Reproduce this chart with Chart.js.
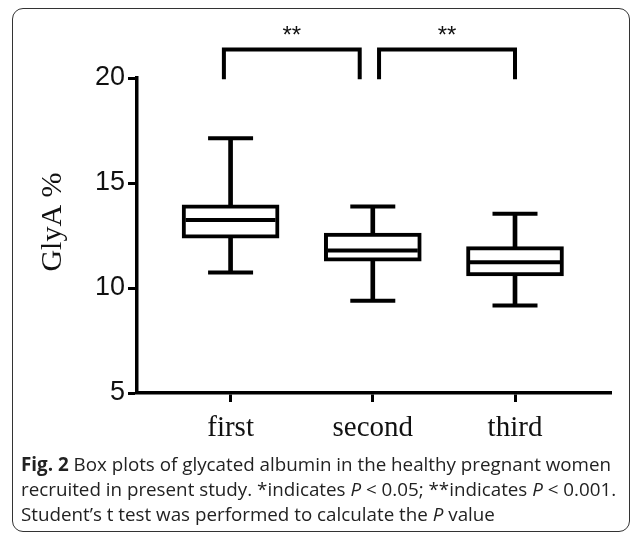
<!DOCTYPE html>
<html>
<head>
<meta charset="utf-8">
<script src="https://cdn.jsdelivr.net/npm/chart.js@4.4.1/dist/chart.umd.min.js"></script>
<style>
  html, body { margin: 0; padding: 0; background: #fff; }
  #wrap { position: relative; width: 633px; height: 536px; overflow: hidden; }
  #c { position: absolute; left: 0; top: 0; }
  #frame { position: absolute; left: 12px; top: 8px; width: 618px; height: 524px;
           border: 1.5px solid #333; border-radius: 11px; box-sizing: border-box; pointer-events: none; }
  #cap { position: absolute; left: 21px; top: 452px; width: 605px;
         font-family: "Open Sans", sans-serif; font-size: 18.8px; line-height: 25px; color: #222; }
  #cap b { font-weight: 700; }
</style>
</head>
<body>
<div id="wrap">
  <canvas id="c" width="633" height="536"></canvas>
  <div id="frame"></div>
  <div id="cap"><b>Fig. 2</b> Box plots of glycated albumin in the healthy pregnant women recruited in present study. *indicates <i>P</i> &lt; 0.05; **indicates <i>P</i> &lt; 0.001. Student’s t test was performed to calculate the <i>P</i> value</div>
</div>
<script>
// ---- data ----
const categories = ["first", "second", "third"];
const whiskerMin = [10.74, 9.39, 9.17];
const q1 = [12.37, 11.28, 10.57];
const median = [13.24, 11.78, 11.23];
const q3 = [13.96, 12.61, 11.97];
const whiskerMax = [17.13, 13.88, 13.53];
const yTicks = [5, 10, 15, 20];
const yTitle = "GlyA %";
// significance brackets (x in category units, y in GlyA %)
const bracketFrom = [0.953, 2.044];
const bracketTo = [1.908, 3.0];
const bracketLabel = ["**", "**"];
const bracketTop = 21.36, bracketBottom = 19.94, bracketTextY = 21.66;

const idx = categories.map((c, i) => i + 1);

const annotations = {
  id: 'annotations',
  afterDatasetsDraw(chart) {
    const ctx = chart.ctx, xs = chart.scales.x, ys = chart.scales.y;
    ctx.save();
    ctx.strokeStyle = '#000';
    ctx.lineWidth = 4;
    ctx.lineJoin = 'miter';
    ctx.lineCap = 'butt';
    for (let i = 0; i < bracketFrom.length; i++) {
      const x0 = xs.getPixelForValue(bracketFrom[i]);
      const x1 = xs.getPixelForValue(bracketTo[i]);
      const yt = ys.getPixelForValue(bracketTop);
      const yb = ys.getPixelForValue(bracketBottom);
      ctx.beginPath();
      ctx.moveTo(x0, yb); ctx.lineTo(x0, yt); ctx.lineTo(x1, yt); ctx.lineTo(x1, yb);
      ctx.stroke();
      ctx.fillStyle = '#111';
      ctx.font = '24px "Liberation Sans", Arial, sans-serif';
      ctx.textAlign = 'center';
      ctx.textBaseline = 'alphabetic';
      ctx.fillText(bracketLabel[i], (x0 + x1) / 2, ys.getPixelForValue(bracketTextY));
    }
    // y axis title
    ctx.translate(53, 222);
    ctx.rotate(-Math.PI / 2);
    ctx.fillStyle = '#111';
    ctx.font = '30px "Liberation Serif", "Times New Roman", serif';
    ctx.textAlign = 'center';
    ctx.textBaseline = 'middle';
    ctx.fillText(yTitle, 0, 0);
    ctx.restore();
  }
};

new Chart(document.getElementById('c'), {
  type: 'bar',
  data: {
    datasets: [
      {
        type: 'bar',
        data: idx.map((x, i) => ({ x, y: [whiskerMin[i], whiskerMax[i]] })),
        backgroundColor: '#000',
        borderWidth: 0,
        barThickness: 4,
        grouped: false,
        order: 3
      },
      {
        type: 'bar',
        data: idx.map((x, i) => ({ x, y: [q1[i], q3[i]] })),
        backgroundColor: '#fff',
        borderColor: '#000',
        borderWidth: 4,
        borderSkipped: false,
        barThickness: 97,
        grouped: false,
        order: 2
      },
      {
        type: 'line',
        data: idx.flatMap((x, i) => [{ x, y: whiskerMin[i] }, { x, y: whiskerMax[i] }]),
        showLine: false,
        pointStyle: 'line',
        pointRadius: 22.5,
        pointBorderWidth: 4,
        borderColor: '#000',
        pointBorderColor: '#000',
        order: 1
      },
      {
        type: 'line',
        data: idx.map((x, i) => ({ x, y: median[i] })),
        showLine: false,
        pointStyle: 'line',
        pointRadius: 45,
        pointBorderWidth: 4,
        borderColor: '#000',
        pointBorderColor: '#000',
        order: 0
      }
    ]
  },
  options: {
    responsive: false,
    animation: false,
    events: [],
    layout: { autoPadding: false, padding: { left: 0, top: 78, right: 22, bottom: 0 } },
    plugins: { legend: { display: false }, tooltip: { enabled: false } },
    scales: {
      x: {
        type: 'linear',
        min: 0.342,
        max: 3.675,
        offset: false,
        afterBuildTicks: s => { s.ticks = idx.map(v => ({ value: v })); },
        afterFit: s => { s.height = 143; },
        ticks: {
          callback: v => categories[v - 1],
          color: '#111',
          padding: 9,
          maxRotation: 0,
          font: { family: '"Liberation Serif", "Times New Roman", serif', size: 29 }
        },
        grid: { display: true, offset: false, drawOnChartArea: false, drawTicks: true, tickLength: 9, tickWidth: 3, color: '#000' },
        border: { display: true, width: 3.5, color: '#000' }
      },
      y: {
        min: 5,
        max: 20,
        afterBuildTicks: s => { s.ticks = yTicks.map(v => ({ value: v })); },
        afterFit: s => { s.width = 137; },
        ticks: {
          color: '#111',
          padding: 3,
          font: { family: '"Liberation Sans", Arial, sans-serif', size: 27 }
        },
        grid: { display: true, drawOnChartArea: false, drawTicks: true, tickLength: 9, tickWidth: 3, color: '#000' },
        border: { display: true, width: 3.5, color: '#000' }
      }
    }
  },
  plugins: [annotations]
});
</script>
</body>
</html>
